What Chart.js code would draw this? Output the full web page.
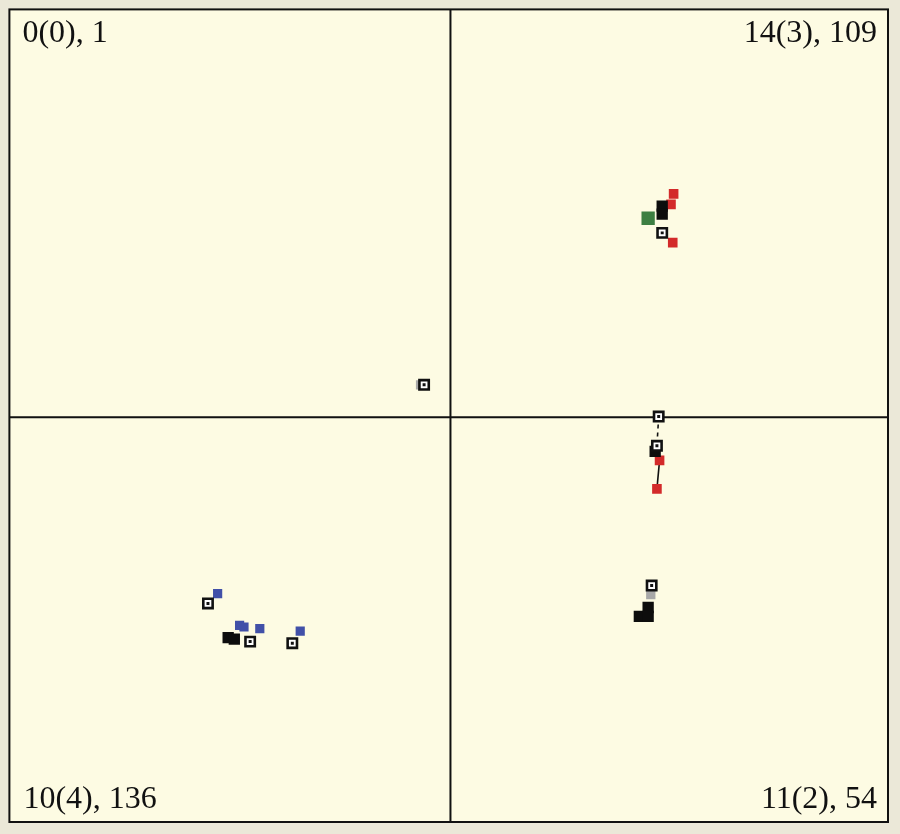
<!DOCTYPE html>
<html lang="en">
  <head>
    <meta charset="UTF-8">
    <title>Quadrant map</title>
    <style>
      html, body { margin: 0; padding: 0; background: #ebe8d8; }
      #wrap { width: 900px; height: 834px; }
    </style>
  </head>
  <body>
    <div id="wrap"><canvas id="myChart"></canvas></div>

    <script src="https://cdn.jsdelivr.net/npm/chart.js"></script>
    <script>
      // quadrant captions: top-left, top-right, bottom-left, bottom-right
      const quadrantLabels = ["0(0), 1", "14(3), 109", "10(4), 136", "11(2), 54"];

      // marker positions, map units (centre = 0,0)
      const hollowX = [24.1, 23.7, 23.5, 22.9, -3.0, -27.6, -22.8, -18.0];
      const hollowY = [22.7, 0.1, -3.5, -20.7, 4.0, -22.9, -27.6, -27.8];
      const blackX = [24.1, 24.1, 23.3, 22.5, 21.5, 22.5, -25.3, -24.6];
      const blackY = [26.0, 25.0, -4.2, -23.4, -24.5, -24.5, -27.1, -27.3];
      const redX = [25.4, 25.1, 25.3, 23.8, 23.5];
      const redY = [27.5, 26.2, 21.5, -5.3, -8.8];
      const greenX = [22.5];
      const greenY = [24.5];
      const blueX = [-26.5, -24.0, -23.5, -21.7, -17.1];
      const blueY = [-21.7, -25.6, -25.8, -26.0, -26.3];
      const grayX = [22.8, -3.4];
      const grayY = [-21.8, 4.0];
      // links between markers
      const dashLinkX = [23.7, 23.5];
      const dashLinkY = [0.1, -3.5];
      const solidLinkX = [23.8, 23.5];
      const solidLinkY = [-5.3, -8.8];

      function pts(xs, ys) {
        return xs.map((x, i) => ({ x: x, y: ys[i] }));
      }

      const quadPlugin = {
        id: "quad",
        beforeDraw(chart) {
          const c = chart.ctx, a = chart.chartArea;
          c.save();
          c.fillStyle = "#fdfbe3";
          c.fillRect(a.left, a.top, a.right - a.left, a.bottom - a.top);
          c.restore();
        },
        beforeDatasetsDraw(chart) {
          const c = chart.ctx, a = chart.chartArea;
          const cx = chart.scales.x.getPixelForValue(0);
          const cy = chart.scales.y.getPixelForValue(0);
          c.save();
          c.strokeStyle = "#111";
          c.lineWidth = 2;
          c.beginPath();
          c.moveTo(cx, a.top); c.lineTo(cx, a.bottom);
          c.moveTo(a.left, cy); c.lineTo(a.right, cy);
          c.stroke();
          c.restore();
        },
        afterDraw(chart) {
          const c = chart.ctx, a = chart.chartArea;
          c.save();
          c.strokeStyle = "#111";
          c.lineWidth = 2;
          c.strokeRect(a.left, a.top, a.right - a.left, a.bottom - a.top);
          c.fillStyle = "#111";
          c.font = "32px 'Liberation Serif', serif";
          c.textBaseline = "alphabetic";
          c.textAlign = "left";
          c.fillText(quadrantLabels[0], a.left + 13, a.top + 33);
          c.fillText(quadrantLabels[2], a.left + 14, a.bottom - 14);
          c.textAlign = "right";
          c.fillText(quadrantLabels[1], a.right - 11, a.top + 33);
          c.fillText(quadrantLabels[3], a.right - 11, a.bottom - 14);
          c.restore();
        }
      };

      const ctx = document.getElementById("myChart");
      const chart = new Chart(ctx, {
        type: "scatter",
        data: {
          datasets: [
            { data: pts(hollowX, hollowY), pointStyle: "rect", pointRadius: 2.1, backgroundColor: "#111", borderWidth: 0 },
            { data: pts(hollowX, hollowY), pointStyle: "rect", pointRadius: 6.6, backgroundColor: "#fff", borderColor: "#111", borderWidth: 2.6 },
            { data: pts(blackX, blackY), pointStyle: "rect", pointRadius: 8, backgroundColor: "#0d0d0d", borderColor: "#0d0d0d", borderWidth: 0 },
            { data: pts(greenX, greenY), pointStyle: "rect", pointRadius: 9.4, backgroundColor: "#3d7f42", borderWidth: 0 },
            { data: pts(redX, redY), pointStyle: "rect", pointRadius: 6.8, backgroundColor: "#d32a2a", borderWidth: 0 },
            { data: pts(blueX, blueY), pointStyle: "rect", pointRadius: 6.5, backgroundColor: "#4150a8", borderWidth: 0 },
            { data: pts(grayX, grayY), pointStyle: "rect", pointRadius: 6.6, backgroundColor: "#a8a8a8", borderWidth: 0 },
            { type: "line", data: pts(dashLinkX, dashLinkY), borderColor: "#111", borderWidth: 1.6, borderDash: [4, 4], pointRadius: 0 },
            { type: "line", data: pts(solidLinkX, solidLinkY), borderColor: "#111", borderWidth: 1.6, pointRadius: 0 }
          ]
        },
        options: {
          responsive: true,
          maintainAspectRatio: false,
          animation: false,
          layout: { padding: { left: 8, right: 12, top: 8, bottom: 12 } },
          plugins: { legend: { display: false }, tooltip: { enabled: false } },
          elements: { point: { hoverRadius: 0 } },
          scales: {
            x: { type: "linear", min: -50.2, max: 49.8, display: false },
            y: { type: "linear", min: -49.8, max: 50.2, display: false }
          }
        },
        plugins: [quadPlugin]
      });
    </script>
  </body>
</html>
